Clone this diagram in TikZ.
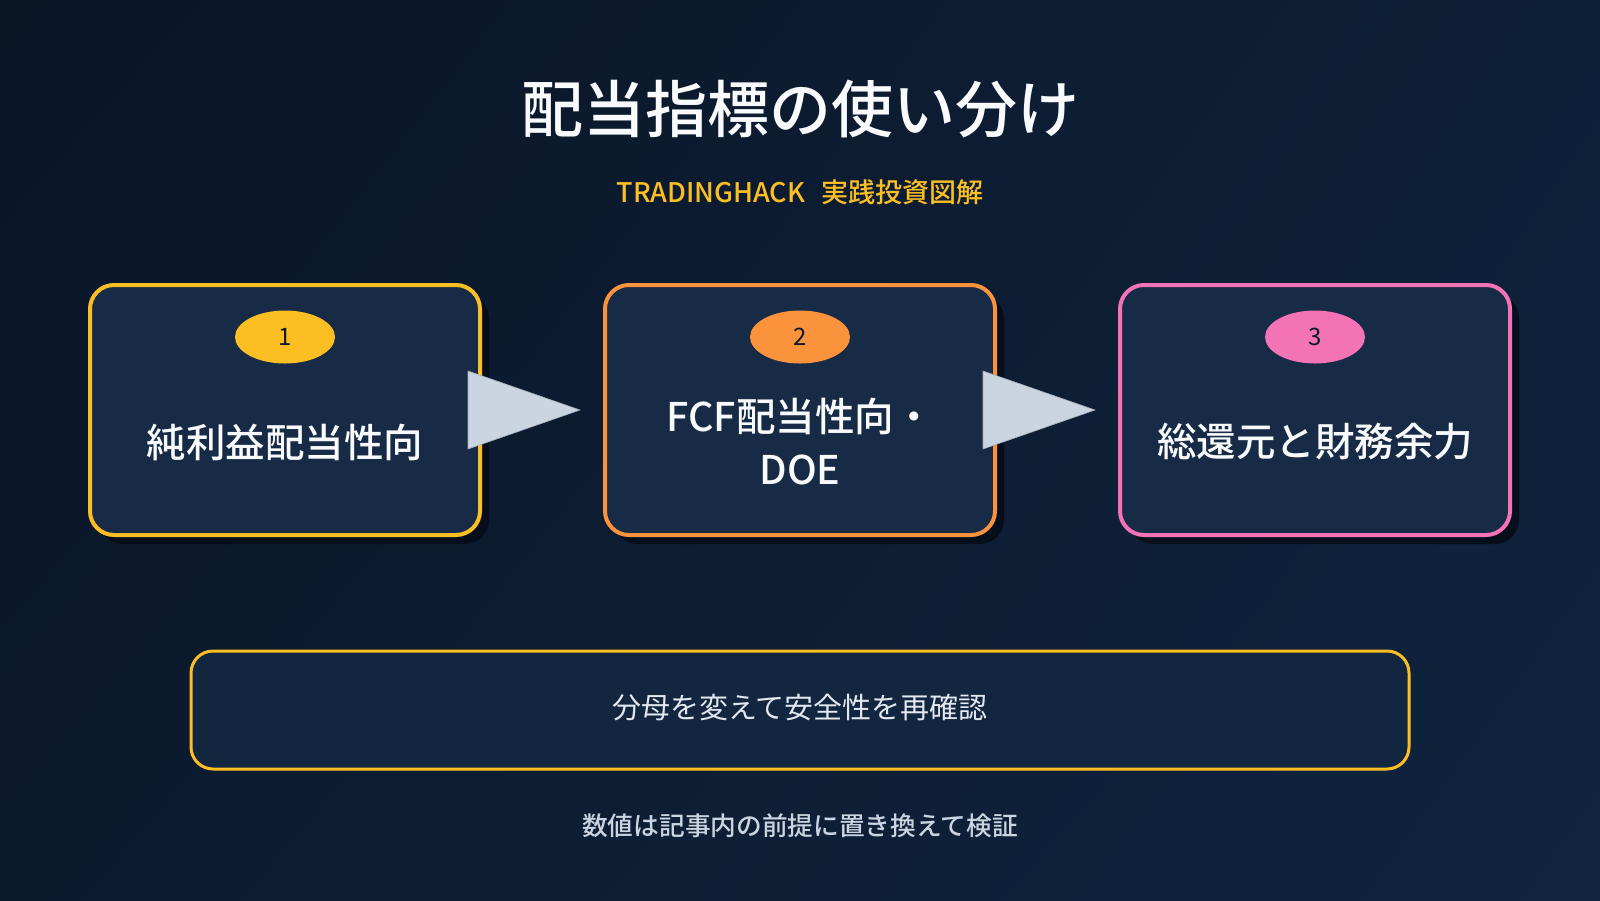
\documentclass[tikz,border=0pt]{standalone}
\usepackage{fontspec}
\setmainfont{Noto Sans CJK JP}
\newfontfamily\medfont{Noto Sans CJK JP Medium}
\usetikzlibrary{shapes.geometric,shadows,calc,shadings}
\definecolor{bgA}{HTML}{0A1526}
\definecolor{bgB}{HTML}{10243F}
\definecolor{bgC}{HTML}{0C1A2E}
\definecolor{bgD}{HTML}{0E2038}
\definecolor{boxfill}{HTML}{172A46}
\definecolor{noteFill}{HTML}{13263F}
\definecolor{ylw}{HTML}{FBBF24}
\definecolor{org}{HTML}{FB923C}
\definecolor{pnk}{HTML}{F472B6}
\definecolor{arrowc}{HTML}{CBD5E1}
\definecolor{txtw}{HTML}{F8FAFC}
\definecolor{txtl}{HTML}{E2E8F0}
\definecolor{txtg}{HTML}{CBD5E1}
\definecolor{darktxt}{HTML}{0F172A}
\definecolor{shadowc}{HTML}{050B16}
\tikzset{
  stepbox/.style={draw=#1, line width=4pt, fill=boxfill, rounded corners=24pt,
    minimum width=390pt, minimum height=250pt, inner sep=0pt,
    drop shadow={shadow xshift=9pt, shadow yshift=-9pt, fill=shadowc, opacity=0.8}},
  badge/.style={ellipse, fill=#1, minimum width=100pt, minimum height=53pt, inner sep=0pt,
    text=darktxt, font=\fontsize{24}{28}\selectfont},
  boxtext/.style={text=txtw, font=\medfont\fontsize{39.5}{53}\selectfont, align=center},
  flowarrow/.style={fill=arrowc, draw=arrowc!80!black, line width=0.6pt},
}
\begin{document}
\begin{tikzpicture}[x=1pt,y=-1pt]
\useasboundingbox (0,0) rectangle (1600,900);
\shade[upper left=bgA, upper right=bgD, lower left=bgC, lower right=bgB] (0,0) rectangle (1600,900);

\node[text=txtw, font=\medfont\fontsize{62}{70}\selectfont] (title) at (800,109) {配当指標の使い分け};
\node[text=ylw, font=\medfont\fontsize{27}{30}\selectfont] (sub) at (800,192) {TRADINGHACK\hspace{0.6em}実践投資図解};

\node[stepbox=ylw] (b1) at (285,410) {};
\node[stepbox=org] (b2) at (800,410) {};
\node[stepbox=pnk] (b3) at (1315,410) {};

\node[badge=ylw] (n1) at (285,337) {1};
\node[badge=org] (n2) at (800,337) {2};
\node[badge=pnk] (n3) at (1315,337) {3};

\node[boxtext] (t1) at (285,442) {純利益配当性向};
\node[boxtext] (t2) at (800,442) {FCF配当性向・\\DOE};
\node[boxtext] (t3) at (1315,442) {総還元と財務余力};

\coordinate (a1l) at ($(b1.east)+(-14,0)$);
\coordinate (a1t) at ($(b2.west)+(-23,0)$);
\coordinate (a2l) at ($(b2.east)+(-14,0)$);
\coordinate (a2t) at ($(b3.west)+(-23,0)$);
\path[flowarrow] ($(a1l)+(0,-39)$) -- (a1t) -- ($(a1l)+(0,39)$) -- cycle;
\path[flowarrow] ($(a2l)+(0,-39)$) -- (a2t) -- ($(a2l)+(0,39)$) -- cycle;

\node[draw=ylw, line width=3pt, fill=noteFill, rounded corners=22pt,
  minimum width=1218pt, minimum height=118pt, inner sep=0pt] (note) at (800,710) {};
\node[text=txtl, font=\fontsize{29}{32}\selectfont] (notetext) at (800,708) {分母を変えて安全性を再確認};

\node[text=txtg, font=\medfont\fontsize{25.7}{30}\selectfont] (foot) at (800,826) {数値は記事内の前提に置き換えて検証};
\end{tikzpicture}
\end{document}
